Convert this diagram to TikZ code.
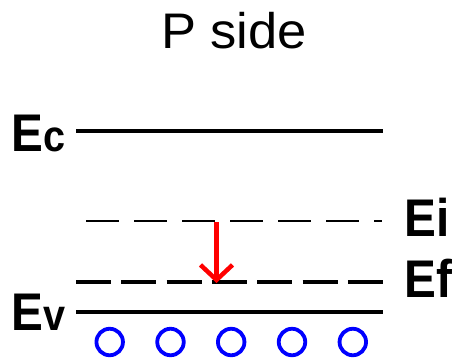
\documentclass[tikz,border=0pt]{standalone}
\usepackage{fontspec}
\setmainfont{Liberation Sans}
\usetikzlibrary{arrows.meta}
\tikzset{
  lbl/.style={anchor=base west, inner sep=0pt, xscale=0.9, font=\fontsize{53}{60}\selectfont\bfseries},
  band/.style={black, line width=4pt},
  eiline/.style={black, line width=2.3pt, dash pattern=on 32.5pt off 15.5pt},
  efline/.style={black, line width=4.5pt, dash pattern=on 35pt off 10.3pt},
  hole/.style={draw=blue, line width=3.8pt, circle, minimum size=26.5pt, inner sep=0pt},
  fermishift/.style={red, line width=4.5pt, -{Straight Barb[length=15pt,width=32pt]}}
}
\newcommand{\lowc}[1]{{\fontsize{44}{48}\selectfont #1}}
\begin{document}
\begin{tikzpicture}[x=1pt,y=-1pt]
\useasboundingbox (0,0) rectangle (452,360);
\node[anchor=base, inner sep=0pt, xscale=1.05, font=\fontsize{50}{58}\selectfont] (title) at (234,48.3) {P side};
% levels
\coordinate (ec1) at (76,130.7); \coordinate (ec2) at (383,130.7);
\coordinate (ei1) at (86,221); \coordinate (ei2) at (382,221);
\coordinate (ef1) at (76,282); \coordinate (ef2) at (383,282);
\coordinate (ev1) at (76,311.8); \coordinate (ev2) at (383,311.8);
\draw[band] (ec1) -- (ec2);
\draw[eiline] (ei1) -- (ei2);
\draw[efline] (ef1) -- (ef2);
\draw[band, line width=4.5pt] (ev1) -- (ev2);
% labels
\node[lbl] (lec) at (11.5,151) {E\lowc{c}};
\node[lbl] (lev) at (11.5,330) {E\lowc{v}};
\node[lbl] (lei) at (404.2,236.7) {Ei};
\node[lbl] (lef) at (404.2,297.3) {Ef};
% arrow
\coordinate (a1) at (216.5,222);
\coordinate (a2) at (216.5,283);
\draw[fermishift] (a1) -- (a2);
% holes
\foreach \i/\x in {1/109.7,2/170.5,3/231.2,4/292,5/352.8}
  \node[hole] (h\i) at (\x,342) {};
\end{tikzpicture}
\end{document}
